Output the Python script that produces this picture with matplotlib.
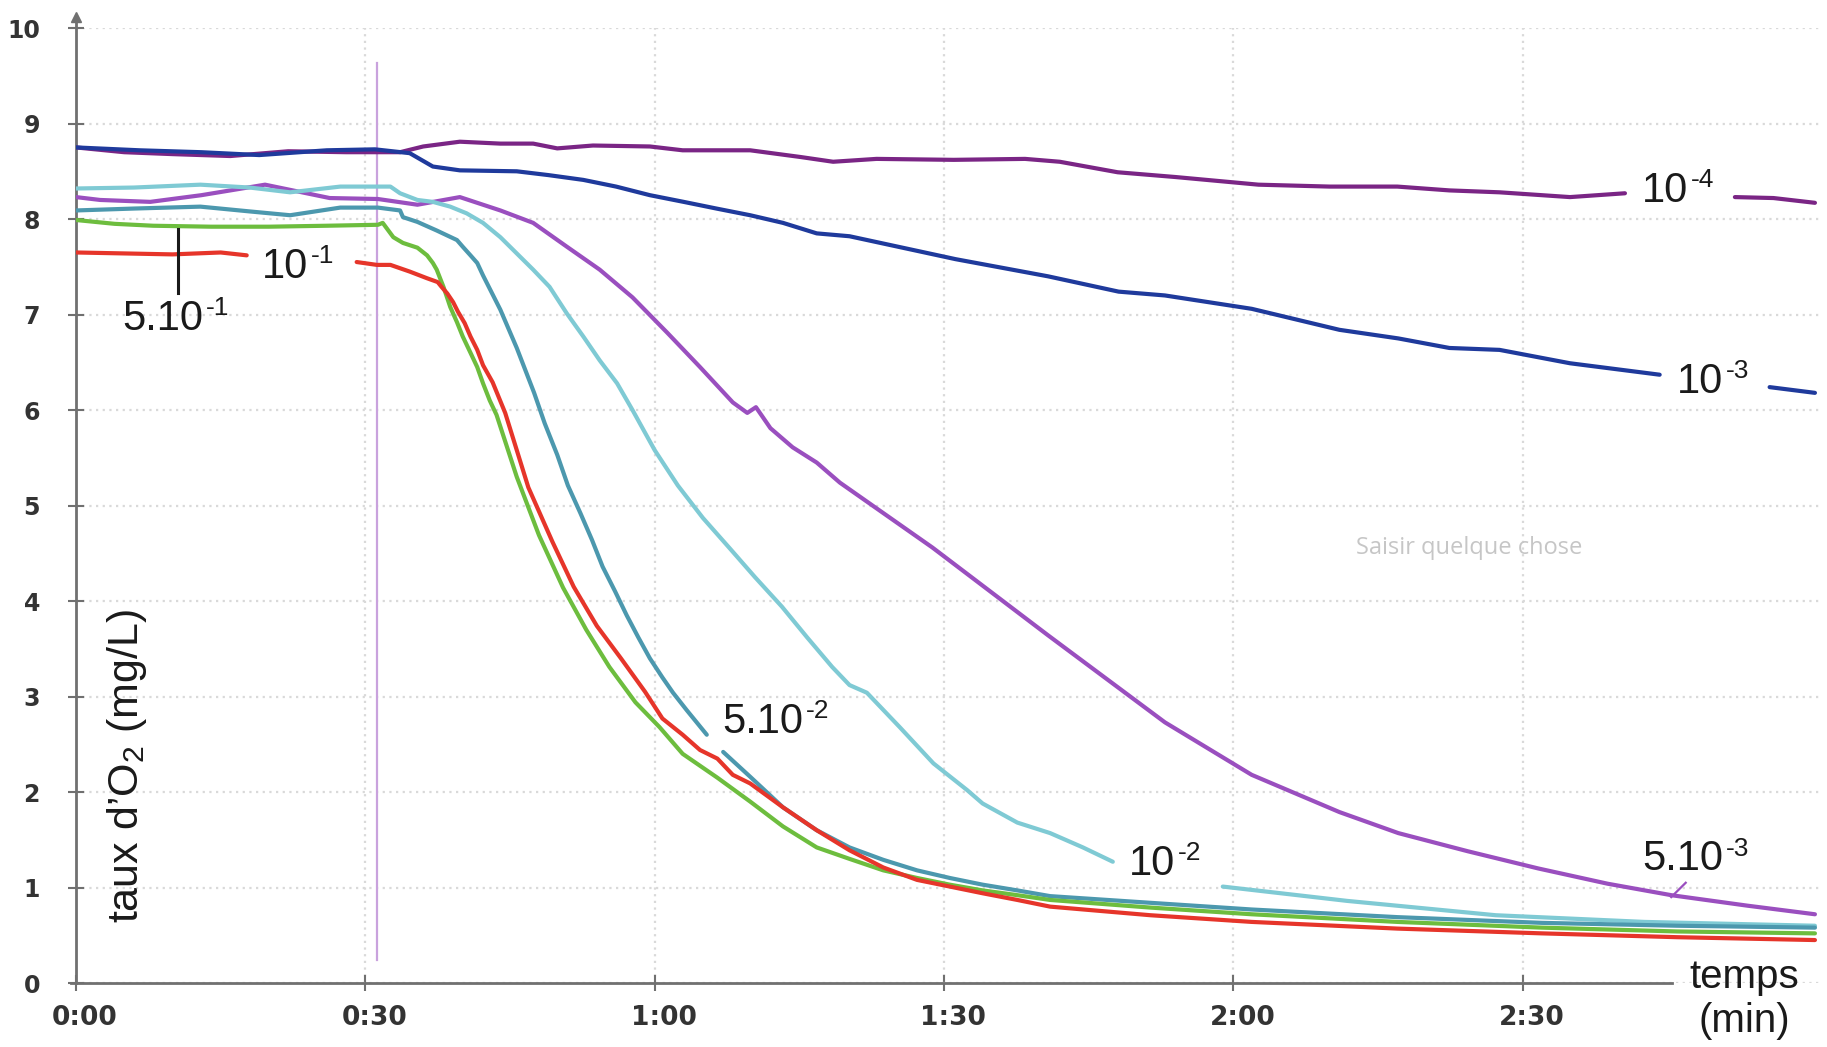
import matplotlib
matplotlib.use("Agg")
import matplotlib.pyplot as plt
import matplotlib.transforms as mtransforms
import numpy as np

nan = np.nan

# time in seconds, O2 in mg/L; nan = gap left for a label
t_p4 = [0, 5, 10, 16, 22, 28, 33.6, 36, 39.8, 44, 47.4, 49.9, 53.6, 59.5, 62.9, 69.9, 75.1, 78.5, 83, 91,
        98.4, 102, 108, 114, 122.6, 130, 137, 142.4, 147.6, 154.9, 160.6, nan, 172, 176, 180.3]
v_p4 = [8.75, 8.70, 8.68, 8.66, 8.71, 8.70, 8.70, 8.76, 8.81, 8.79, 8.79, 8.74, 8.77, 8.76, 8.72, 8.72, 8.65,
        8.60, 8.63, 8.62, 8.63, 8.60, 8.49, 8.44, 8.36, 8.34, 8.34, 8.30, 8.28, 8.23, 8.27, nan, 8.23, 8.22, 8.17]

t_b3 = [0, 6.6, 13, 19, 26, 31, 34.6, 37, 39.8, 45.7, 49, 52.6, 56, 59.5, 63, 66.4, 69.9, 73.3, 76.8, 80.2,
        91.2, 100.8, 108.1, 112.9, 121.9, 131, 137.1, 142.4, 147.6, 154.9, 158, 164.2, nan, 175.6, 180.3]
v_b3 = [8.75, 8.72, 8.70, 8.67, 8.72, 8.73, 8.69, 8.55, 8.51, 8.50, 8.46, 8.41, 8.34, 8.25, 8.18, 8.11, 8.04,
        7.96, 7.85, 7.82, 7.58, 7.40, 7.24, 7.20, 7.06, 6.84, 6.75, 6.65, 6.63, 6.49, 6.45, 6.37, nan, 6.24, 6.18]

t_p53 = [0, 2.5, 7.7, 13, 19.6, 26.3, 31.3, 35.4, 39.8, 44.0, 47.4, 50.9, 54.3, 57.7, 61.3, 64.7, 68.1, 69.6,
         70.5, 72.0, 74.3, 76.8, 79.2, 88.8, 100.8, 112.9, 121.9, 131.0, 137.1, 144.3, 151.6, 158.8, 165.4,
         173.3, 180.3]
v_p53 = [8.23, 8.20, 8.18, 8.25, 8.36, 8.22, 8.21, 8.15, 8.23, 8.09, 7.96, 7.71, 7.47, 7.18, 6.81, 6.45, 6.08,
         5.97, 6.03, 5.81, 5.61, 5.45, 5.24, 4.56, 3.64, 2.73, 2.18, 1.79, 1.57, 1.38, 1.20, 1.04, 0.92,
         0.81, 0.72]

t_c2 = [0, 6, 12.9, 18, 22.2, 27.4, 31, 32.6, 33.6, 35.4, 37.0, 38.8, 40.5, 42.2, 44.0, 45.7, 47.4, 49.1,
        50.9, 52.6, 54.3, 56.1, 57.7, 60.0, 62.4, 65.0, 67.8, 70.4, 73.2, 75.8, 78.4, 80.2, 82.0, 85.4,
        88.9, 92.4, 94.0, 97.6, 101.0, 104.4, 107.5, nan, 118.9, 131.8, 147.2, 162.6, 180.3]
v_c2 = [8.32, 8.33, 8.36, 8.33, 8.28, 8.34, 8.34, 8.34, 8.27, 8.20, 8.18, 8.13, 8.06, 7.96, 7.81, 7.64, 7.47,
        7.29, 7.01, 6.77, 6.52, 6.28, 6.00, 5.58, 5.21, 4.87, 4.55, 4.25, 3.94, 3.62, 3.31, 3.12, 3.04, 2.68,
        2.30, 2.02, 1.88, 1.68, 1.57, 1.42, 1.27, nan, 1.01, 0.86, 0.71, 0.64, 0.60]

t_t52 = [0, 6, 12.9, 18, 22.2, 27.4, 31.3, 33.6, 33.9, 35.4, 37.4, 39.5, 40.1, 40.9, 41.6, 42.2, 44.0, 45.7,
         47.5, 48.6, 49.9, 51.0, 52.3, 53.5, 54.6, 55.9, 57.1, 58.3, 59.5, 60.8, 61.9, 63.3, 65.4, nan, 67.1,
         69.9, 73.3, 76.8, 80.2, 83.7, 87.2, 90.6, 94.0, 97.6, 101.0, 111.4, 121.9, 137, 152, 166, 180.3]
v_t52 = [8.09, 8.11, 8.13, 8.08, 8.04, 8.12, 8.12, 8.09, 8.02, 7.97, 7.88, 7.78, 7.71, 7.62, 7.54, 7.41, 7.05,
         6.65, 6.18, 5.86, 5.53, 5.21, 4.92, 4.64, 4.36, 4.10, 3.85, 3.62, 3.40, 3.20, 3.04, 2.86, 2.60, nan,
         2.42, 2.16, 1.84, 1.60, 1.42, 1.29, 1.18, 1.10, 1.03, 0.97, 0.91, 0.84, 0.77, 0.69, 0.63, 0.60, 0.58]

t_g51 = [0, 4, 8, 14, 20, 26, 31.3, 31.8, 32.9, 33.9, 35.4, 36.4, 37.0, 37.4, 38.1, 38.8, 39.5, 40.1, 40.9,
         41.6, 42.2, 42.9, 43.6, 45.7, 48.0, 50.5, 52.9, 55.3, 58.0, 60.5, 62.9, 66.5, 69.9, 73.3, 76.8, 80.2,
         83.7, 87.2, 90.6, 94.0, 97.6, 101.0, 111.4, 121.9, 137, 152, 166, 180.3]
v_g51 = [7.99, 7.95, 7.93, 7.92, 7.92, 7.93, 7.94, 7.96, 7.81, 7.75, 7.70, 7.62, 7.54, 7.47, 7.29, 7.08, 6.92,
         6.77, 6.60, 6.45, 6.28, 6.10, 5.95, 5.30, 4.69, 4.14, 3.70, 3.31, 2.94, 2.68, 2.40, 2.15, 1.90, 1.64,
         1.42, 1.30, 1.18, 1.10, 1.03, 0.97, 0.92, 0.87, 0.79, 0.72, 0.64, 0.58, 0.54, 0.52]

t_r1 = [0, 5, 10, 15, 17.7, nan, 29.1, 31.2, 32.6, 34.6, 36.4, 37.5, 37.9, 38.5, 39.1, 39.6, 40.3, 40.9, 41.6,
        42.2, 43.2, 44.5, 46.9, 49.4, 51.6, 54.0, 56.5, 59.0, 60.8, 62.9, 64.7, 66.5, 68.1, 69.9, 73.3, 76.8,
        80.2, 83.7, 87.2, 90.6, 94.0, 97.6, 101.0, 111.4, 121.9, 137, 152, 166, 180.3]
v_r1 = [7.65, 7.64, 7.63, 7.65, 7.62, nan, 7.55, 7.52, 7.52, 7.45, 7.38, 7.34, 7.29, 7.22, 7.13, 7.03, 6.91,
        6.77, 6.63, 6.47, 6.29, 5.97, 5.19, 4.62, 4.15, 3.74, 3.40, 3.05, 2.77, 2.60, 2.44, 2.35, 2.18, 2.09,
        1.84, 1.60, 1.39, 1.21, 1.08, 1.01, 0.94, 0.87, 0.80, 0.71, 0.64, 0.57, 0.52, 0.48, 0.45]

series = [
    (t_p4, v_p4, "#7a2585"),
    (t_b3, v_b3, "#1f3a9c"),
    (t_p53, v_p53, "#9a4fbf"),
    (t_c2, v_c2, "#7fcad4"),
    (t_t52, v_t52, "#4c98ae"),
    (t_g51, v_g51, "#6dbd3e"),
    (t_r1, v_r1, "#e6352a"),
]

# concentration labels: (left x, baseline y, base, exponent)
labels = [
    (19.3, 7.38, "10", "-1"),
    (4.8, 6.84, "5.10", "-1"),
    (162.4, 8.18, "10", "-4"),
    (166.0, 6.18, "10", "-3"),
    (67.0, 2.62, "5.10", "-2"),
    (109.2, 1.13, "10", "-2"),
    (162.4, 1.18, "5.10", "-3"),
]

x_ticks = [0, 30, 60, 90, 120, 150]
x_ticklabels = ["0:00", "0:30", "1:00", "1:30", "2:00", "2:30"]
y_ticks = list(range(0, 11))

plt.rcParams["mathtext.fontset"] = "custom"
plt.rcParams["mathtext.rm"] = "Liberation Sans"
plt.rcParams["mathtext.it"] = "Liberation Sans:italic"

fig = plt.figure(figsize=(18.27, 10.47), dpi=100)
ax = fig.add_axes([0.0416, 0.0611, 0.9555, 0.9121])
ax.set_xlim(0, 181)
ax.set_ylim(0, 10)

ax.grid(True, color="#d9d9d9", linestyle=(0, (1, 2)), linewidth=1.6, zorder=0)
ax.set_axisbelow(True)

for s in ["top", "right"]:
    ax.spines[s].set_visible(False)
for s in ["left", "bottom"]:
    ax.spines[s].set_color("#707070")
    ax.spines[s].set_linewidth(2)
ax.spines["bottom"].set_bounds(-0.5, 165.5)
ax.spines["left"].set_bounds(0, 10.1)
ax.plot([0], [10.12], marker="^", ms=7, color="#707070", clip_on=False)

ax.set_xticks(x_ticks)
ax.set_xticklabels(x_ticklabels)
ax.set_yticks(y_ticks)
ax.tick_params(axis="both", direction="inout", length=12, width=1.5, color="#707070")
ax.tick_params(axis="x", labelsize=19, pad=10, labelcolor="#333333")
ax.tick_params(axis="y", labelsize=17, pad=20, labelcolor="#333333")
for lab in ax.get_xticklabels() + ax.get_yticklabels():
    lab.set_fontweight("bold")
    lab.set_family("DejaVu Sans")
off = mtransforms.ScaledTranslation(9 / 100, 0, fig.dpi_scale_trans)
for lab in ax.get_xticklabels():
    lab.set_transform(lab.get_transform() + off)

# injection marker
ax.plot([31.2, 31.2], [0.24, 9.63], color="#c9a2dd", lw=1.6, zorder=2)

for t, v, c in series:
    ax.plot(t, v, color=c, lw=3, solid_capstyle="round", zorder=3)

# leader lines
ax.plot([10.6, 10.6], [7.23, 7.9], color="#1a1a1a", lw=2.2, zorder=4)
ax.plot([166.9, 165.4], [1.05, 0.90], color="#9a4fbf", lw=1.6, zorder=4)

for x, y, base, exp in labels:
    tb = ax.text(x, y, base, fontsize=30, family="Liberation Sans", color="#1a1a1a",
                 ha="left", va="baseline", zorder=5)
    ax.annotate(exp, xy=(1, 1), xycoords=tb, xytext=(2, 2), textcoords="offset points",
                fontsize=19, family="Liberation Sans", color="#1a1a1a", ha="left", va="top", zorder=5)

ax.text(5.3, 2.27, "taux d\u2019O$_2$ (mg/L)", rotation=90, fontsize=31, family="Liberation Sans",
        color="#1a1a1a", ha="center", va="center")
ax.text(173.0, -0.17, "temps\n(min)", fontsize=29, family="Liberation Sans", color="#1a1a1a",
        ha="center", va="center", multialignment="center", clip_on=False)
ax.text(144.5, 4.56, "Saisir quelque chose", fontsize=17, family="Open Sans", color="#c6c6c6",
        ha="center", va="center")

fig.savefig("out.png", dpi=100)
